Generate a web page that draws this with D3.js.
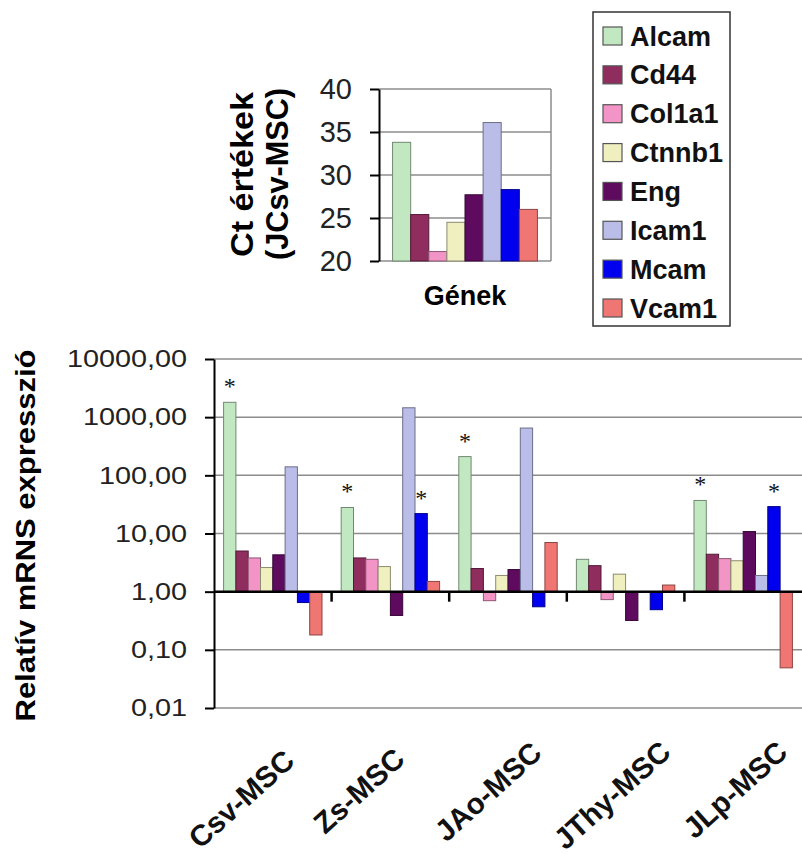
<!DOCTYPE html>
<html><head><meta charset="utf-8">
<script src="https://cdn.jsdelivr.net/npm/d3@7"></script>
<style>
html,body{margin:0;padding:0;background:#fff;}
svg{display:block;font-family:"Liberation Sans",Arial,sans-serif;}
</style></head><body>
<svg id="c" width="802" height="854"></svg>
<script>
// ---------- data ----------
const genes = ["Alcam","Cd44","Col1a1","Ctnnb1","Eng","Icam1","Mcam","Vcam1"];
const geneColors = ["#c2e8c2","#8e2d5e","#f294c6","#efefbf","#5e0a5e","#b9bde8","#0000ee","#ef7672"];
const ctValues = [33.8, 25.4, 21.1, 24.5, 27.7, 36.1, 28.3, 26.0];
const ctTicks = [20, 25, 30, 35, 40];
const groups = ["Csv-MSC","Zs-MSC","JAo-MSC","JThy-MSC","JLp-MSC"];
const csvValues  = [1800, 5.0, 3.8, 2.6, 4.3, 140, 0.65, 0.18];
const zsValues   = [28, 3.8, 3.6, 2.7, 0.39, 1450, 22, 1.5];
const jaoValues  = [210, 2.5, 0.7, 1.9, 2.4, 650, 0.55, 7.0];
const jthyValues = [3.6, 2.8, 0.73, 2.0, 0.32, null, 0.49, 1.3];
const jlpValues  = [37, 4.4, 3.7, 3.4, 10.8, 1.9, 29, 0.049];
const significant = [["Csv-MSC","Alcam"],["Zs-MSC","Alcam"],["Zs-MSC","Mcam"],["JAo-MSC","Alcam"],["JLp-MSC","Alcam"],["JLp-MSC","Mcam"]];
const exprTicks = [0.01, 0.1, 1, 10, 100, 1000, 10000];

// layout (not data)
const labelNudgeX = [-14, -6.5, -3, -1.5, 10];
const labelNudgeY = [5, -10, -2, 6, -5];

const exprByGroup = [csvValues, zsValues, jaoValues, jthyValues, jlpValues];
const svg = d3.select("#c");
const color = d3.scaleOrdinal().domain(genes).range(geneColors);
const strokeOf = g => d3.color(color(g)).darker(1.5).formatHex();

// ---------- top chart ----------
const T = {left:379, right:551, top:89, bottom:261};
const yCt = d3.scaleLinear().domain([20, 40]).range([T.bottom, T.top]);
const xCt = d3.scaleBand().domain(genes).range([T.left, T.right]).paddingInner(0).paddingOuter(0.75);
const gt = svg.append("g");
gt.append("g").selectAll("line").data(ctTicks.slice(1)).join("line")
  .attr("x1", T.left).attr("x2", T.right)
  .attr("y1", d => yCt(d)).attr("y2", d => yCt(d))
  .attr("stroke", "#8c8c8c").attr("stroke-width", 1.5);
gt.append("line").attr("x1", T.right).attr("x2", T.right).attr("y1", yCt(40)).attr("y2", yCt(20))
  .attr("stroke", "#8c8c8c").attr("stroke-width", 1.5);
gt.append("line").attr("x1", T.left).attr("x2", T.right).attr("y1", yCt(20)).attr("y2", yCt(20))
  .attr("stroke", "#8c8c8c").attr("stroke-width", 1.5);
gt.append("g").selectAll("rect").data(genes).join("rect")
  .attr("x", g => xCt(g)).attr("width", xCt.bandwidth())
  .attr("y", (g, i) => yCt(ctValues[i])).attr("height", (g, i) => yCt(20) - yCt(ctValues[i]))
  .attr("fill", g => color(g)).attr("stroke", strokeOf).attr("stroke-width", 1);
const axT = gt.append("g").attr("transform", `translate(${T.left},0)`)
  .call(d3.axisLeft(yCt).tickValues(ctTicks).tickSize(9).tickSizeOuter(0).tickPadding(18).tickFormat(d3.format("d")));
axT.select(".domain").attr("stroke", "#000").attr("stroke-width", 2);
axT.selectAll(".tick line").attr("stroke", "#000").attr("stroke-width", 2);
axT.selectAll(".tick text").attr("font-size", 29).attr("fill", "#222").attr("font-family", "Liberation Sans, Arial, sans-serif");
gt.append("text").attr("transform", "translate(253,174.5) rotate(-90)").attr("text-anchor", "middle")
  .attr("font-size", 32).attr("font-weight", "bold").attr("textLength", 165).attr("lengthAdjust", "spacingAndGlyphs")
  .text("Ct értékek");
gt.append("text").attr("transform", "translate(288,174) rotate(-90)").attr("text-anchor", "middle")
  .attr("font-size", 32).attr("font-weight", "bold").attr("textLength", 172).attr("lengthAdjust", "spacingAndGlyphs")
  .text("(JCsv-MSC)");
gt.append("text").attr("x", (T.left + T.right) / 2).attr("y", 305).attr("text-anchor", "middle")
  .attr("font-size", 27).attr("font-weight", "bold").text("Gének");

// ---------- legend ----------
const lg = svg.append("g");
lg.append("rect").attr("x", 593).attr("y", 12).attr("width", 137).attr("height", 314)
  .attr("fill", "#fff").attr("stroke", "#333").attr("stroke-width", 1.5);
const rowY = d3.scalePoint().domain(genes).range([36, 308]);
const rows = lg.selectAll("g.row").data(genes).join("g").attr("class", "row")
  .attr("transform", g => `translate(0,${rowY(g)})`);
rows.append("rect").attr("x", 603).attr("y", -9).attr("width", 19).attr("height", 18)
  .attr("fill", g => color(g)).attr("stroke", "#555").attr("stroke-width", 1.2);
rows.append("text").attr("x", 630).attr("y", 9.5).attr("font-size", 27).attr("font-weight", "bold")
  .attr("fill", "#111").text(g => g);

// ---------- bottom chart ----------
const B = {left:214, right:802, top:359, bottom:708};
const yE = d3.scaleLog().domain([0.01, 10000]).range([B.bottom, B.top]);
const x0 = d3.scaleBand().domain(groups).range([B.left, B.right]);
const x1 = d3.scaleBand().domain(genes).range([0, x0.bandwidth()]).paddingInner(0).paddingOuter(0.78);
const gb = svg.append("g");
gb.append("g").selectAll("line").data(exprTicks.filter(d => d !== 1)).join("line")
  .attr("x1", B.left).attr("x2", B.right)
  .attr("y1", d => yE(d)).attr("y2", d => yE(d))
  .attr("stroke", "#8c8c8c").attr("stroke-width", 1.5);
const cells = [];
groups.forEach((grp, gi) => genes.forEach((gene, k) => {
  const v = exprByGroup[gi][k];
  if (v != null) cells.push({grp, gene, v});
}));
gb.append("g").selectAll("rect").data(cells).join("rect")
  .attr("x", d => x0(d.grp) + x1(d.gene)).attr("width", x1.bandwidth())
  .attr("y", d => Math.min(yE(d.v), yE(1))).attr("height", d => Math.abs(yE(d.v) - yE(1)))
  .attr("fill", d => color(d.gene)).attr("stroke", d => strokeOf(d.gene)).attr("stroke-width", 1);
// baseline at 1,00
gb.append("line").attr("x1", B.left).attr("x2", B.right).attr("y1", yE(1)).attr("y2", yE(1))
  .attr("stroke", "#000").attr("stroke-width", 2.5);
gb.append("g").selectAll("line").data(groups.slice(1)).join("line")
  .attr("x1", g => x0(g)).attr("x2", g => x0(g)).attr("y1", yE(1)).attr("y2", yE(1) + 10)
  .attr("stroke", "#000").attr("stroke-width", 2.5);
// asterisks
gb.append("g").selectAll("text").data(significant).join("text")
  .attr("x", d => x0(d[0]) + x1(d[1]) + x1.bandwidth() / 2)
  .attr("y", d => yE(exprByGroup[groups.indexOf(d[0])][genes.indexOf(d[1])]) - 8)
  .attr("text-anchor", "middle").attr("font-size", 24).attr("font-family", "Liberation Serif, serif")
  .attr("fill", "#111").text("*");
// y axis
const fmt = d => d3.format(".2f")(d).replace(".", ",");
const axB = gb.append("g").attr("transform", `translate(${B.left},0)`)
  .call(d3.axisLeft(yE).tickValues(exprTicks).tickSize(9).tickSizeOuter(0).tickFormat(fmt));
axB.select(".domain").attr("stroke", "#000").attr("stroke-width", 2);
axB.selectAll(".tick line").attr("stroke", "#000").attr("stroke-width", 2);
axB.selectAll(".tick text").attr("font-size", 24).attr("fill", "#222")
  .attr("font-family", "Liberation Sans, Arial, sans-serif")
  .attr("x", -27 / 1.2).attr("transform", "scale(1.2,1)");
gb.append("text").attr("transform", `translate(35,${(B.top + B.bottom) / 2 + 2}) rotate(-90)`)
  .attr("text-anchor", "middle").attr("font-size", 28).attr("font-weight", "bold")
  .attr("textLength", 372).attr("lengthAdjust", "spacingAndGlyphs")
  .text("Relatív mRNS expresszió");
// category labels
gb.append("g").selectAll("text").data(groups).join("text")
  .attr("transform", (g, i) => `translate(${x0(g) + labelNudgeX[i]},${845 + labelNudgeY[i]}) rotate(-42)`)
  .attr("font-size", 29.5).attr("font-weight", "bold").attr("fill", "#111").text(g => g);
</script>
</body></html>
